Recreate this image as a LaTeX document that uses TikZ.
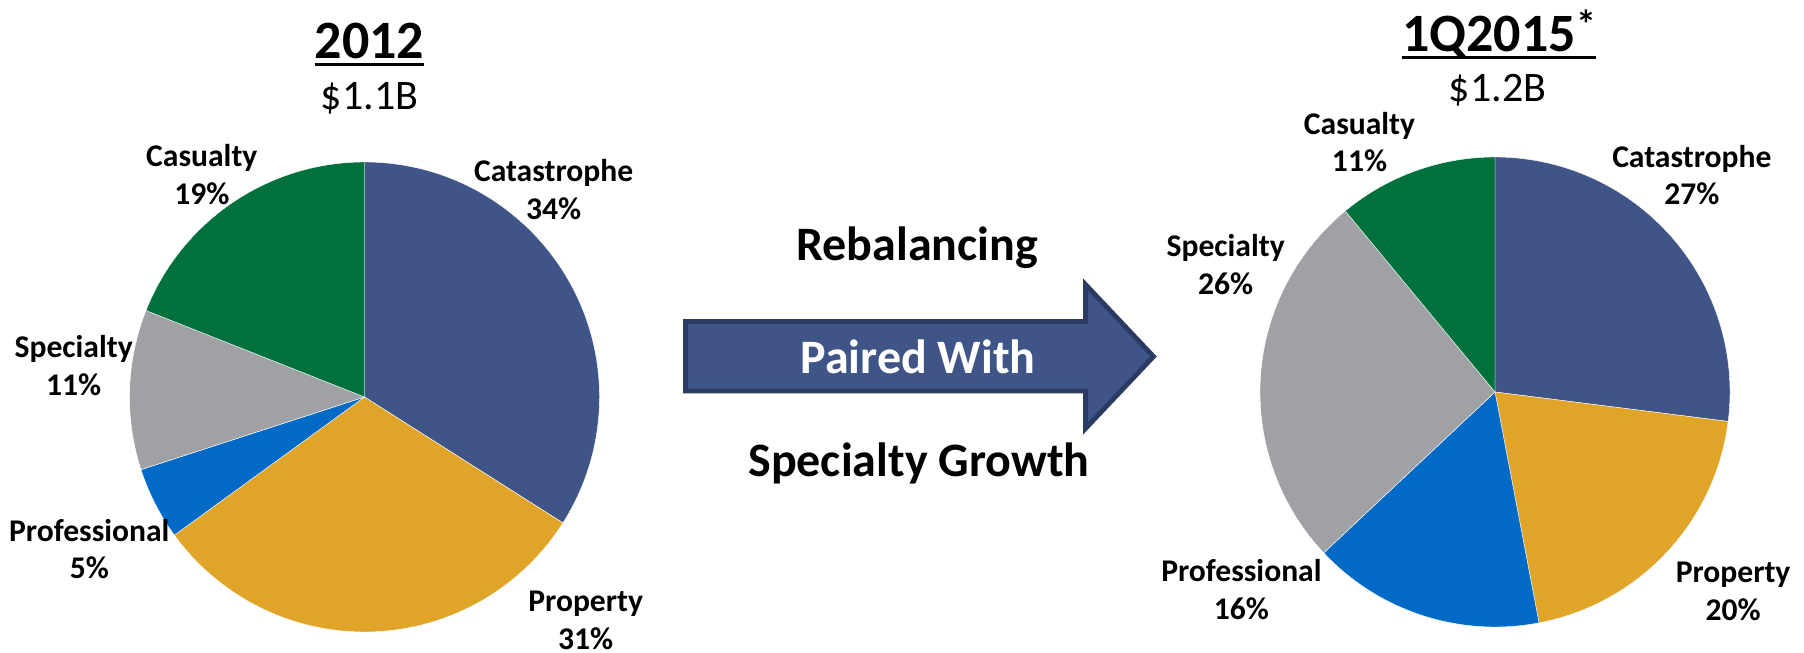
\documentclass[tikz,border=0pt]{standalone}
\usepackage{fontspec}
\setmainfont{Carlito}
\definecolor{cat}{RGB}{63,85,135}
\definecolor{prop}{RGB}{224,165,40}
\definecolor{prof}{RGB}{0,106,198}
\definecolor{spec}{RGB}{160,161,165}
\definecolor{casu}{RGB}{0,112,60}
\definecolor{arrowedge}{RGB}{42,58,98}
\newcommand\pieslice[4]{\path[fill=#4, draw=white, line width=0.4pt] (#1) -- ++(#2:235pt) arc[start angle=#2, end angle=#3, radius=235pt] -- cycle;}
\begin{document}
\begin{tikzpicture}[x=1pt,y=-1pt,
  lbl/.style={font=\bfseries\fontsize{31.6}{37.5}\selectfont, align=center, inner sep=0pt},
  ttl/.style={font=\bfseries\fontsize{54}{60}\selectfont, inner sep=0pt, anchor=base},
  amt/.style={font=\fontsize{42}{48}\selectfont, inner sep=0pt, anchor=base},
  mid/.style={font=\bfseries\fontsize{48}{56}\selectfont, inner sep=0pt, anchor=base},
  uline/.style={line width=3pt}]
\useasboundingbox (0,0) rectangle (1804,653);
\coordinate (L) at (364.5,397);
\coordinate (R) at (1495,392);
% left pie
\pieslice{L}{90}{-32.4}{cat}
\pieslice{L}{-32.4}{-144}{prop}
\pieslice{L}{-144}{-162}{prof}
\pieslice{L}{-162}{-201.6}{spec}
\pieslice{L}{-201.6}{-270}{casu}
% right pie
\pieslice{R}{90}{-7.2}{cat}
\pieslice{R}{-7.2}{-79.2}{prop}
\pieslice{R}{-79.2}{-136.8}{prof}
\pieslice{R}{-136.8}{-230.4}{spec}
\pieslice{R}{-230.4}{-270}{casu}
% left labels
\node[lbl] (lcas) at (201.8,174.4) {Casualty\\19\%};
\node[lbl] (lcat) at (553.6,189.7) {Catastrophe\\34\%};
\node[lbl] (lspe) at (73.7,365.3) {Specialty\\11\%};
\node[lbl] (lpro) at (89.3,549) {Professional\\5\%};
\node[lbl] (lprp) at (585.7,620.5) {Property\\31\%};
% right labels
\node[lbl] (rcas) at (1359.5,141.8) {Casualty\\11\%};
\node[lbl] (rcat) at (1691.8,175) {Catastrophe\\27\%};
\node[lbl] (rspe) at (1225.7,264.5) {Specialty\\26\%};
\node[lbl] (rpro) at (1241.4,589.4) {Professional\\16\%};
\node[lbl] (rprp) at (1733.1,591.2) {Property\\20\%};
% titles
\node[ttl] (t12) at (369.5,58) {2012};
\draw[uline] ([yshift=-6pt]t12.base west) -- ([yshift=-6pt]t12.base east);
\node[amt] (a12) at (369.5,109) {\$1.1B};
\node[ttl] (t15) at (1499,51) {1Q2015\raisebox{13pt}{\fontsize{40}{44}\selectfont *}};
\draw[uline] ([yshift=-6pt]t15.base west) -- ([yshift=-6pt]t15.base east);
\node[amt] (a15) at (1497.5,101) {\$1.2B};
% arrow
\draw[fill=cat, draw=arrowedge, line width=4.8pt, line join=miter]
  (685.5,321.5) -- (1085.5,321.5) -- (1085.5,284.5) -- (1153.5,356.5)
  -- (1085.5,428.5) -- (1085.5,391) -- (685.5,391) -- cycle;
\node[mid] (reb) at (917,260) {Rebalancing};
\node[mid, text=white] (pw) at (918,373.3) {Paired With};
\node[mid] (sg) at (919,476) {Specialty Growth};
\end{tikzpicture}
\end{document}
